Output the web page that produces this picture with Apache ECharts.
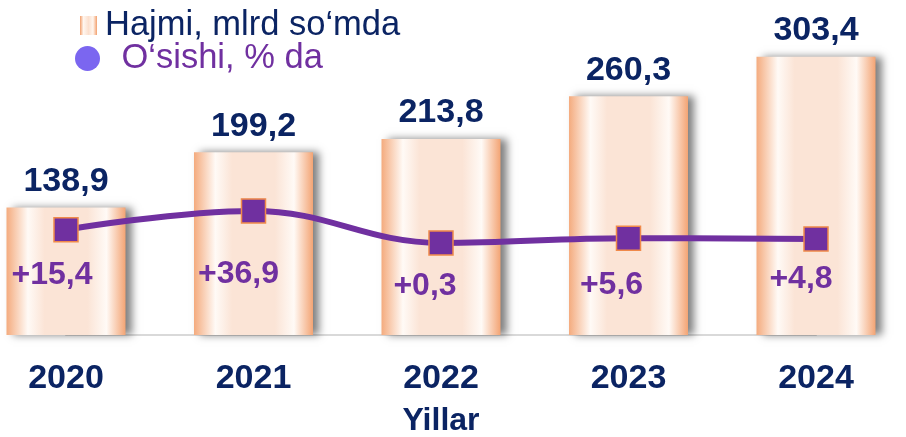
<!DOCTYPE html>
<html>
<head>
<meta charset="utf-8">
<script src="https://cdn.jsdelivr.net/npm/echarts@6/dist/echarts.min.js"></script>
<style>
	html, body { margin: 0; padding: 0; background: #fff; }
	#chart { width: 906px; height: 437px; }
</style>
</head>
<body>
<div id="chart"></div>
<script>
// data
var years = ['2020', '2021', '2022', '2023', '2024'];
var volume = [138.9, 199.2, 213.8, 260.3, 303.4];
var growth = [15.4, 36.9, 0.3, 5.6, 4.8];
var volumeName = 'Hajmi, mlrd so‘mda';
var growthName = 'O‘sishi, % da';

// label nudges for the growth values (style only)
var growthLabelOffsets = [[-14, 45], [-15, 63], [-16, 43], [-17, 47], [-15, 40]];

var navy = '#0b2463';
var purple = '#7030a0';
var font = 'Arial, "Liberation Sans", sans-serif';

function fmt(v) {
	return v.toFixed(1).replace('.', ',');
}

var barColor = new echarts.graphic.LinearGradient(0, 0, 1, 0, [
	{ offset: 0, color: '#f4ab7e' },
	{ offset: 0.18, color: '#fffaf6' },
	{ offset: 0.32, color: '#fbe4d6' },
	{ offset: 0.68, color: '#fbe4d6' },
	{ offset: 0.84, color: '#fffaf6' },
	{ offset: 1, color: '#f3a474' }
]);

// small rect inside a 25x25 box, so the legend circle can stay large
var legendRectIcon = 'path://M0,0h0.01v0.01h-0.01z M5,3h17v19h-17z M24.99,24.99h0.01v0.01h-0.01z';
var legendRectColor = new echarts.graphic.LinearGradient(0, 0, 1, 0, [
	{ offset: 0.2, color: '#f2a06e' },
	{ offset: 0.34, color: '#fff6ef' },
	{ offset: 0.54, color: '#fbe0cf' },
	{ offset: 0.72, color: '#fff6ef' },
	{ offset: 0.88, color: '#f2a06e' }
]);

var growthData = growth.map(function (v, i) {
	return {
		value: v,
		label: { offset: growthLabelOffsets[i] }
	};
});

var chart = echarts.init(document.getElementById('chart'));
var option = {
	animation: false,
	legend: {
		orient: 'vertical',
		left: 70,
		top: 3,
		itemGap: -2,
		itemWidth: 25,
		itemHeight: 25,
		formatter: function (name) {
			return name === growthName ? ' \u2009' + name : name;
		},
		data: [{
			name: volumeName,
			icon: legendRectIcon,
			itemStyle: { color: legendRectColor, shadowBlur: 0, shadowOffsetX: 0 },
			textStyle: { color: navy, fontSize: 34.5, lineHeight: 32, fontFamily: font }
		}, {
			name: growthName,
			icon: 'circle',
			itemStyle: { color: '#7b66f0', borderWidth: 0 },
			textStyle: { color: purple, fontSize: 34.5, lineHeight: 32, fontFamily: font }
		}]
	},
	grid: {
		left: 66,
		right: 90,
		top: 14,
		bottom: 102,
		outerBoundsMode: 'none'
	},
	xAxis: {
		type: 'category',
		data: years,
		boundaryGap: false,
		name: 'Yillar',
		nameLocation: 'middle',
		nameGap: 70,
		nameTextStyle: { color: navy, fontSize: 32, fontWeight: 'bold', fontFamily: font },
		axisLine: { lineStyle: { color: '#d9d9d9', width: 2 } },
		axisTick: { show: false },
		axisLabel: { color: navy, fontSize: 34, fontWeight: 'bold', fontFamily: font, margin: 27 },
		splitLine: { show: false }
	},
	yAxis: [{
		type: 'value',
		min: 0,
		max: 350,
		show: false,
		splitLine: { show: false }
	}, {
		type: 'value',
		min: -105,
		max: 262,
		show: false,
		splitLine: { show: false }
	}],
	series: [{
		name: volumeName,
		type: 'bar',
		barWidth: 119,
		clip: false,
		itemStyle: {
			color: barColor,
			shadowColor: 'rgba(0,0,0,0.5)',
			shadowBlur: 8,
			shadowOffsetX: 6
		},
		label: {
			show: true,
			position: 'top',
			distance: 9,
			color: navy,
			fontSize: 34,
			fontWeight: 'bold',
			fontFamily: font,
			formatter: function (p) { return fmt(p.value); }
		},
		data: volume
	}, {
		name: growthName,
		type: 'line',
		yAxisIndex: 1,
		smooth: 0.4,
		clip: false,
		symbol: 'rect',
		symbolSize: 24,
		lineStyle: { color: purple, width: 6 },
		itemStyle: { color: purple, borderColor: '#f0894a', borderWidth: 1.5 },
		label: {
			show: true,
			position: 'inside',
			color: purple,
			fontSize: 32,
			fontWeight: 'bold',
			fontFamily: font,
			formatter: function (p) { return '+' + fmt(p.value); }
		},
		data: growthData
	}]
};
chart.setOption(option);
</script>
</body>
</html>
